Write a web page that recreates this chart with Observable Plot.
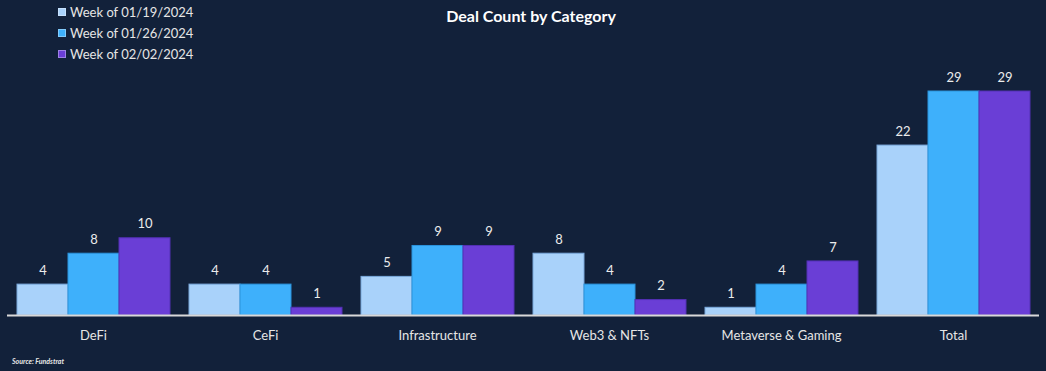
<!DOCTYPE html>
<html>
<head>
<meta charset="utf-8">
<script src="https://cdn.jsdelivr.net/npm/d3@7"></script>
<script src="https://cdn.jsdelivr.net/npm/@observablehq/plot@0.6"></script>
<style>
  html, body { margin: 0; padding: 0; background: #12213a; }
  #wrap { position: relative; width: 1046px; height: 371px; overflow: hidden; background: #12213a; font-family: Lato, "Open Sans", sans-serif; }
  #chart { position: absolute; left: 0; top: 0; }
  #title { position: absolute; left: 0; width: 1062px; top: 6px; text-align: center; color: #ffffff; font-weight: bold; font-size: 16px; }
  #legend { position: absolute; left: 58px; top: 1px; color: #e6e6e6; font-size: 13px; }
  .li { display: flex; align-items: center; height: 21px; }
  .sw { width: 8px; height: 8px; margin-right: 4px; box-sizing: border-box; border: 1px solid rgba(255,255,255,0.35); }
  #source { position: absolute; left: 12px; top: 357px; color: #e6e6e6; font-size: 7px; font-weight: bold; font-style: italic; }
</style>
</head>
<body>
<div id="wrap">
  <div id="chart"></div>
  <div id="title">Deal Count by Category</div>
  <div id="legend"></div>
  <div id="source">Source: Fundstrat</div>
</div>
<script>
const categories = ["DeFi", "CeFi", "Infrastructure", "Web3 & NFTs", "Metaverse & Gaming", "Total"];
const weeks = ["Week of 01/19/2024", "Week of 01/26/2024", "Week of 02/02/2024"];
const week1 = [4, 4, 5, 8, 1, 22];
const week2 = [8, 4, 9, 4, 4, 29];
const week3 = [10, 1, 9, 2, 7, 29];
const colors = ["#a9d2fa", "#3eb0fb", "#6a3ed6"];
const strokes = ["#7aa9dc", "#2b93dc", "#5330b4"];

const series = [week1, week2, week3];
const data = [];
categories.forEach((c, i) => {
  weeks.forEach((w, j) => data.push({category: c, week: w, value: series[j][i]}));
});

const chart = Plot.plot({
  width: 1046,
  height: 371,
  marginLeft: 7,
  marginRight: 7,
  marginTop: 91,
  marginBottom: 56,
  style: {background: "transparent", fontFamily: "Lato, 'Open Sans', sans-serif"},
  fx: {domain: categories, padding: 0, label: null},
  x: {domain: weeks, paddingInner: 0, paddingOuter: 0.154, axis: null},
  y: {domain: [0, 29], axis: null},
  color: {domain: weeks, range: colors},
  marks: [
    Plot.barY(data, {fx: "category", x: "week", y: "value", fill: "week",
      stroke: d => strokes[weeks.indexOf(d.week)], strokeWidth: 1, inset: 0}),
    Plot.text(data, {fx: "category", x: "week", y: "value", text: d => String(d.value),
      dy: -14, fill: "#ececec", fontSize: 13}),
    Plot.ruleY([0], {stroke: "#d9d9d9", strokeWidth: 2}),
    Plot.axisFx({anchor: "bottom", tickSize: 0, tickPadding: 15, fontSize: 13, color: "#e6e6e6", label: null})
  ]
});
document.getElementById("chart").appendChild(chart);

const legend = document.getElementById("legend");
weeks.forEach((w, j) => {
  const row = document.createElement("div");
  row.className = "li";
  const sw = document.createElement("span");
  sw.className = "sw";
  sw.style.background = colors[j];
  const t = document.createElement("span");
  t.textContent = w;
  row.appendChild(sw);
  row.appendChild(t);
  legend.appendChild(row);
});
</script>
</body>
</html>
